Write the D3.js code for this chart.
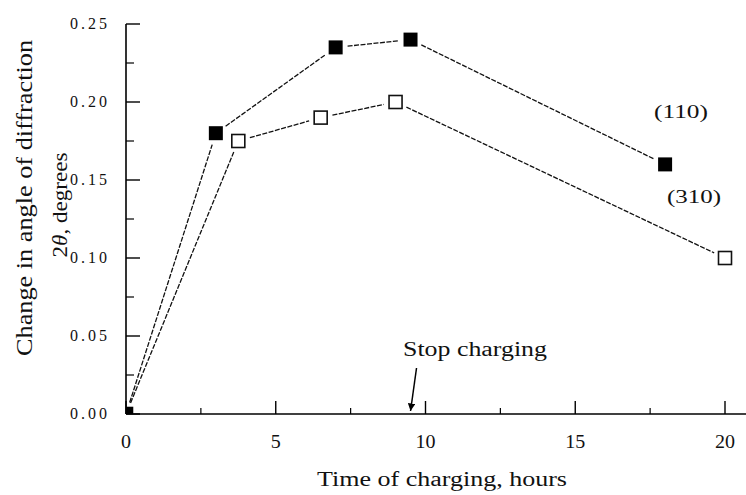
<!DOCTYPE html>
<html>
<head>
<meta charset="utf-8">
<script src="https://cdn.jsdelivr.net/npm/d3@7"></script>
<style>
  body { margin: 0; background: #fff; }
  svg { display: block; }
  text { font-family: "Liberation Serif", "DejaVu Serif", serif; fill: #111; }
</style>
</head>
<body>
<svg class="canvas" width="746" height="495"></svg>
<script>
// data
const hours110 = [0, 3, 7, 9.5, 18];
const shift110 = [0, 0.18, 0.235, 0.24, 0.16];
const hours310 = [0, 3.75, 6.5, 9, 20];
const shift310 = [0, 0.175, 0.19, 0.2, 0.1];
const xTicks = [0, 5, 10, 15, 20];
const yTicks = [0, 0.05, 0.1, 0.15, 0.2, 0.25];
const stopHour = 9.5;

const svg = d3.select(".canvas");

const x = d3.scaleLinear().domain([0, 20]).range([126, 725]);
const y = d3.scaleLinear().domain([0, 0.25]).range([414, 24]);

const zip = (xs, ys) => xs.map((h, i) => ({ h: h, v: ys[i] }));
const s110 = zip(hours110, shift110);
const s310 = zip(hours310, shift310);

// clip so the origin markers sit inside the axes corner
svg.append("defs").append("clipPath").attr("id", "plot")
  .append("rect")
  .attr("x", x(0)).attr("y", 0)
  .attr("width", 746 - x(0)).attr("height", y(0));

// axes: ticks point inward
const xAxis = svg.append("g").attr("transform", `translate(0,${y(0)})`);
xAxis.append("line")
  .attr("x1", x(0)).attr("x2", 746)
  .attr("stroke", "#000").attr("stroke-width", 1.6);
xAxis.selectAll(".maj").data(xTicks).enter().append("line")
  .attr("x1", d => x(d)).attr("x2", d => x(d))
  .attr("y1", 0).attr("y2", -13)
  .attr("stroke", "#000").attr("stroke-width", 1.4);
xAxis.selectAll(".min").data(d3.range(2.5, 20, 5)).enter().append("line")
  .attr("x1", d => x(d)).attr("x2", d => x(d))
  .attr("y1", 0).attr("y2", -6)
  .attr("stroke", "#000").attr("stroke-width", 1.2);
xAxis.selectAll("text").data(xTicks).enter().append("text")
  .attr("x", d => x(d)).attr("y", 34)
  .attr("text-anchor", "middle")
  .style("font-size", "18px")
  .attr("textLength", d => String(d).length * 10)
  .attr("lengthAdjust", "spacingAndGlyphs")
  .text(d => d);

const yAxis = svg.append("g").attr("transform", `translate(${x(0)},0)`);
yAxis.append("line")
  .attr("y1", y(0)).attr("y2", y(0.25))
  .attr("stroke", "#000").attr("stroke-width", 1.6);
yAxis.selectAll(".maj").data(yTicks).enter().append("line")
  .attr("y1", d => y(d)).attr("y2", d => y(d))
  .attr("x1", 0).attr("x2", 14)
  .attr("stroke", "#000").attr("stroke-width", 1.4);
yAxis.selectAll(".min").data(d3.range(0.025, 0.25, 0.05)).enter().append("line")
  .attr("y1", d => y(d)).attr("y2", d => y(d))
  .attr("x1", 0).attr("x2", 8)
  .attr("stroke", "#000").attr("stroke-width", 1.2);
yAxis.selectAll("text").data(yTicks).enter().append("text")
  .attr("x", -19).attr("y", d => y(d) + 5)
  .attr("text-anchor", "end")
  .style("font-size", "16px")
  .attr("textLength", 37).attr("lengthAdjust", "spacing")
  .text(d => d3.format(".2f")(d));

// connecting lines, trimmed so they stop short of the markers
function segments(pts) {
  const out = [];
  for (let i = 1; i < pts.length; i++) {
    const x1 = x(pts[i - 1].h), y1 = y(pts[i - 1].v);
    const x2 = x(pts[i].h), y2 = y(pts[i].v);
    const len = Math.hypot(x2 - x1, y2 - y1);
    const ux = (x2 - x1) / len, uy = (y2 - y1) / len;
    const gap = 12;
    out.push({ x1: x1 + ux * gap, y1: y1 + uy * gap, x2: x2 - ux * gap, y2: y2 - uy * gap });
  }
  return out;
}

[s110, s310].forEach(s => {
  svg.append("g").selectAll("line").data(segments(s)).enter().append("line")
    .attr("x1", d => d.x1).attr("y1", d => d.y1)
    .attr("x2", d => d.x2).attr("y2", d => d.y2)
    .attr("stroke", "#111").attr("stroke-width", 1.3)
    .attr("stroke-dasharray", "5,1.5");
});

const marks = svg.append("g").attr("clip-path", "url(#plot)");
marks.selectAll(".open").data(s310).enter().append("rect")
  .attr("x", d => x(d.h) - 6.5).attr("y", d => y(d.v) - 6.5)
  .attr("width", 13).attr("height", 13)
  .attr("fill", "#fff").attr("stroke", "#111").attr("stroke-width", 1.6);
marks.selectAll(".fill").data(s110).enter().append("rect")
  .attr("x", d => x(d.h) - 7).attr("y", d => y(d.v) - 7)
  .attr("width", 14).attr("height", 14)
  .attr("fill", "#000");

// series labels
svg.append("text").attr("x", 681).attr("y", 118)
  .attr("text-anchor", "middle").style("font-size", "19px")
  .attr("textLength", 54).attr("lengthAdjust", "spacingAndGlyphs")
  .text("(110)");
svg.append("text").attr("x", 694).attr("y", 203)
  .attr("text-anchor", "middle").style("font-size", "19px")
  .attr("textLength", 54).attr("lengthAdjust", "spacingAndGlyphs")
  .text("(310)");

// stop charging annotation
svg.append("defs").append("marker")
  .attr("id", "arrow").attr("viewBox", "0 0 10 10")
  .attr("refX", 10).attr("refY", 5)
  .attr("markerWidth", 5).attr("markerHeight", 5)
  .attr("orient", "auto")
  .append("path").attr("d", "M0,0L10,5L0,10z").attr("fill", "#000");
svg.append("line")
  .attr("x1", x(stopHour) + 6).attr("y1", 368)
  .attr("x2", x(stopHour)).attr("y2", y(0) - 3)
  .attr("stroke", "#000").attr("stroke-width", 1.5)
  .attr("marker-end", "url(#arrow)");
svg.append("text").attr("x", 475).attr("y", 356)
  .attr("text-anchor", "middle").style("font-size", "20px")
  .attr("textLength", 144).attr("lengthAdjust", "spacingAndGlyphs")
  .text("Stop charging");

// axis titles
svg.append("text").attr("x", 442).attr("y", 486)
  .attr("text-anchor", "middle").style("font-size", "20px")
  .attr("textLength", 250).attr("lengthAdjust", "spacingAndGlyphs")
  .text("Time of charging, hours");
svg.append("text")
  .attr("transform", "translate(32,198) rotate(-90)")
  .attr("text-anchor", "middle").style("font-size", "23px")
  .attr("textLength", 316).attr("lengthAdjust", "spacingAndGlyphs")
  .text("Change in angle of diffraction");
svg.append("text")
  .attr("transform", "translate(67,205) rotate(-90)")
  .attr("text-anchor", "middle").style("font-size", "21px")
  .attr("textLength", 105).attr("lengthAdjust", "spacingAndGlyphs")
  .html("2<tspan font-style='italic'>θ</tspan>, degrees");
</script>
</body>
</html>
